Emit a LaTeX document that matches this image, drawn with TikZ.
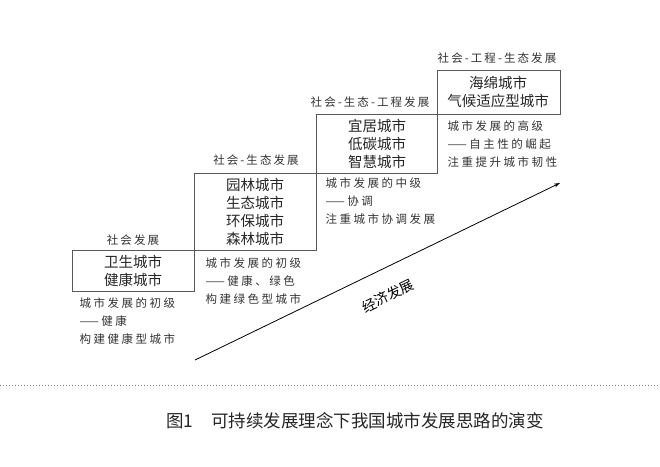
\documentclass[tikz,border=0pt]{standalone}
\usepackage{fontspec}
\setmainfont{Noto Sans CJK SC}
\usetikzlibrary{arrows.meta}
\begin{document}
\begin{tikzpicture}[x=1pt,y=-1pt,
  stage/.style={draw=gray!70!black,line width=0.8pt},
  big/.style={font=\fontsize{14.5}{18}\selectfont,align=center,text=black!85},
  small/.style={font=\fontsize{11.5}{18}\selectfont\addfontfeature{LetterSpace=22},align=left,anchor=north west,text=black!80},
  top/.style={font=\fontsize{11.5}{14}\selectfont\addfontfeature{LetterSpace=18},text=black!80}]
\useasboundingbox (0,0) rectangle (660,466);
\draw[stage] (72,250) rectangle (194,291);
\draw[stage] (194,173) rectangle (316,250);
\draw[stage] (316,114) rectangle (437,173);
\draw[stage] (437,70) rectangle (560,114);
\node[big] (b1) at (133,271) {卫生城市\\健康城市};
\node[big] (b2) at (255,212) {园林城市\\生态城市\\环保城市\\森林城市};
\node[big] (b3) at (377,144) {宜居城市\\低碳城市\\智慧城市};
\node[big] (b4) at (498,92) {海绵城市\\气候适应型城市};
\node[top] (t1) at (133,240) {社会发展};
\node[top] (t2) at (256,160) {社会-生态发展};
\node[top] (t3) at (370,102) {社会-生态-工程发展};
\node[top] (t4) at (497,58) {社会-工程-生态发展};
\node[small] (s1) at (76,294) {城市发展的初级\\——健康\\构建健康型城市};
\node[small] (s2) at (202,254) {城市发展的初级\\——健康、绿色\\构建绿色型城市};
\node[small] (s3) at (322,174) {城市发展的中级\\——协调\\注重城市协调发展};
\node[small] (s4) at (444,117) {城市发展的高级\\——自主性的崛起\\注重提升城市韧性};
\coordinate (a0) at (195,360);
\coordinate (a1) at (560,183);
\draw[line width=0.8pt,-{Stealth[length=6pt,width=4pt]}] (a0) -- (a1);
\node[font=\fontsize{14}{16}\selectfont,rotate=25.9] (ec) at (388,296) {经济发展};
\draw[dotted,line width=1pt,gray] (0,385) -- (660,385);
\node[font=\fontsize{17.5}{20}\selectfont,text=black!85] (cap) at (355,421) {图1\quad 可持续发展理念下我国城市发展思路的演变};
\end{tikzpicture}
\end{document}
